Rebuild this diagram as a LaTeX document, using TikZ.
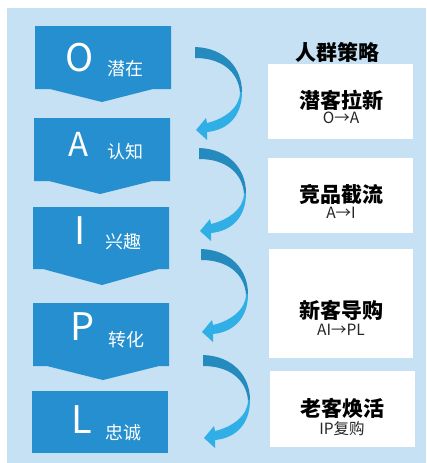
\documentclass[tikz,border=0pt]{standalone}
\usepackage{fontspec}
\newfontfamily\cjk{Noto Sans CJK SC}
\definecolor{bgblue}{HTML}{C6E1F3}
\definecolor{boxblue}{HTML}{258FCF}
\definecolor{arrowdk}{HTML}{258BBF}
\definecolor{arrowlt}{HTML}{2FAFE5}
\begin{document}
\begin{tikzpicture}[x=1pt,y=-1pt,
  stage/.style={fill=boxblue},
  letter/.style={text=white,font=\cjk\fontsize{38}{38}\selectfont,inner sep=0},
  stagelbl/.style={text=white,font=\cjk\fontsize{18}{18}\selectfont,inner sep=0},
  card/.style={fill=white},
  cardtitle/.style={font=\cjk\bfseries\fontsize{21}{21}\selectfont,text=black,inner sep=0},
  cardsub/.style={font=\cjk\fontsize{15.5}{15.5}\selectfont,text=black!85,inner sep=0},
  curvarrow/.pic={
    \fill[arrowdk] (0,0) .. controls (30,1) and (47,21) .. (47,45) -- (45,45) .. controls (43,25) and (27,11) .. (0,11) -- cycle;
    \fill[arrowlt] (47,45) .. controls (47,69) and (33,83) .. (12,85) -- (12,93) -- (1,83) -- (11,71) -- (12,76) .. controls (29,72) and (45,61) .. (45,45) -- cycle;
  }
]
\useasboundingbox (0,0) rectangle (426,463);
\fill[white] (0,0) rectangle (426,463);
\fill[bgblue] (7,8) rectangle (426,463);

% stage boxes
\fill[stage] (35,26) -- (171,26) -- (171,89) -- (153,89) -- (102,102) -- (50,89) -- (35,89) -- cycle;
\fill[stage] (34,118) -- (170,118) -- (170,181) -- (152,181) -- (100,194) -- (49,181) -- (34,181) -- cycle;
\fill[stage] (33,207) -- (169,207) -- (169,269) -- (159,269) -- (102,285) -- (43,269) -- (33,269) -- cycle;
\fill[stage] (33,303) -- (169,303) -- (169,366) -- (159,366) -- (103,380) -- (47,366) -- (33,366) -- cycle;
\fill[stage] (32,391) rectangle (168,453);

\node[letter] (lO) at (80,58) {O};
\node[letter,font=\cjk\fontsize{33}{33}\selectfont] (lA) at (79,144) {A};
\node[letter] (lI) at (80,231) {I};
\node[letter] (lP) at (83,327) {P};
\node[letter] (lL) at (82,420) {L};

\node[stagelbl] (sO) at (125.5,69) {潜在};
\node[stagelbl] (sA) at (125,152) {认知};
\node[stagelbl] (sI) at (123,242) {兴趣};
\node[stagelbl] (sP) at (126,340) {转化};
\node[stagelbl] (sL) at (123.5,433) {忠诚};

% curved arrows
\pic at (195,47) {curvarrow};
\pic at (199,148) {curvarrow};
\pic at (201,249) {curvarrow};
\pic at (203,355) {curvarrow};

% right column
\node[cardtitle] (title) at (337,52) {人群策略};
\fill[card] (268,64) rectangle (413,139);
\fill[card] (268,158) rectangle (413,233);
\fill[card] (269,249) rectangle (413,358);
\fill[card] (270,371) rectangle (415,447);

\node[cardtitle] (t1) at (341,100) {潜客拉新};
\node[cardsub] (u1) at (341,118) {O→A};
\node[cardtitle] (t2) at (341,194) {竞品截流};
\node[cardsub] (u2) at (341,213) {A→I};
\node[cardtitle] (t3) at (341,310) {新客导购};
\node[cardsub] (u3) at (341,330) {AI→PL};
\node[cardtitle] (t4) at (342,408) {老客焕活};
\node[cardsub] (u4) at (342,429) {IP复购};
\end{tikzpicture}
\end{document}
